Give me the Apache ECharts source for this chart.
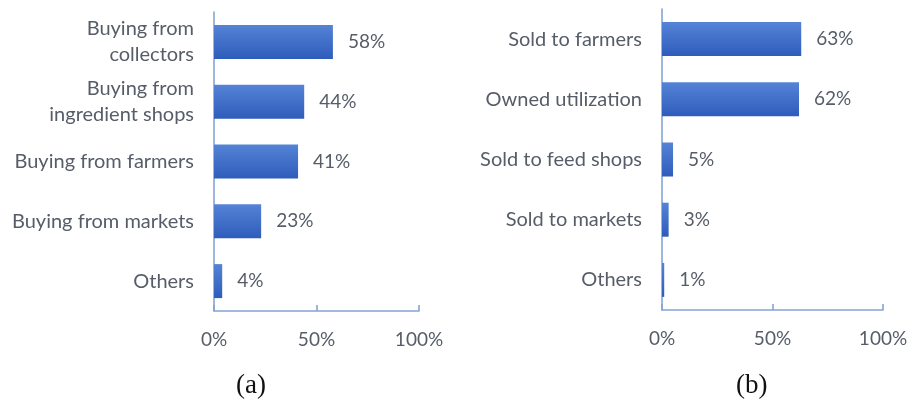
<!DOCTYPE html>
<html>
<head>
<meta charset="utf-8">
<script src="https://cdn.jsdelivr.net/npm/echarts@6/dist/echarts.min.js"></script>
<style>
  html, body { margin: 0; padding: 0; background: #ffffff; }
  #chart { width: 919px; height: 403px; }
</style>
</head>
<body>
<div id="chart"></div>
<script>
// (a) sources of purchase
const sourceCategories = [
  'Buying from\ncollectors',
  'Buying from\ningredient shops',
  'Buying from farmers',
  'Buying from markets',
  'Others'
];
const sourceShares = [58, 44, 41, 23, 4];

// (b) destinations of use
const useCategories = [
  'Sold to farmers',
  'Owned utilization',
  'Sold to feed shops',
  'Sold to markets',
  'Others'
];
const useShares = [63, 62, 5, 3, 1];

// shared percentage scale
const pctMin = 0;
const pctMax = 100;
const pctStep = 50;
const panelLabels = ['(a)', '(b)'];

const textColor = '#565d68';
const axisColor = '#86a3d6';
const labelFont = 'Lato, "Open Sans", sans-serif';

const barFill = new echarts.graphic.LinearGradient(0, 0, 0, 1, [
  { offset: 0, color: '#5583d6' },
  { offset: 1, color: '#2e5cbb' }
]);

function valueAxis(gridIndex) {
  return {
    type: 'value',
    gridIndex: gridIndex,
    min: pctMin,
    max: pctMax,
    interval: pctStep,
    axisLine: { show: true, lineStyle: { color: axisColor, width: 1.6 } },
    axisTick: { show: true, inside: true, length: 6, lineStyle: { color: axisColor, width: 1.6 } },
    splitLine: { show: false },
    axisLabel: {
      formatter: '{value}%',
      color: textColor,
      fontFamily: labelFont,
      fontSize: 19,
      margin: 19
    }
  };
}

function categoryAxis(gridIndex, cats) {
  return {
    type: 'category',
    gridIndex: gridIndex,
    data: cats,
    inverse: true,
    axisLine: { show: true, lineStyle: { color: axisColor, width: 1.6 } },
    axisTick: { show: false },
    axisLabel: {
      color: textColor,
      fontFamily: labelFont,
      fontSize: 20,
      lineHeight: 26,
      margin: 20,
      align: 'right'
    }
  };
}

function barSeries(idx, values) {
  return {
    type: 'bar',
    xAxisIndex: idx,
    yAxisIndex: idx,
    data: values,
    barWidth: 34,
    itemStyle: { color: barFill },
    label: {
      show: true,
      position: 'right',
      distance: 15,
      formatter: '{c}%',
      color: textColor,
      fontFamily: labelFont,
      fontSize: 19
    },
    silent: true
  };
}

const chart = echarts.init(document.getElementById('chart'), null, { renderer: 'canvas' });

chart.setOption({
  animation: false,
  backgroundColor: '#ffffff',
  grid: [
    { left: 214, top: 12, width: 205, height: 299, containLabel: false },
    { left: 662, top: 9, width: 221, height: 301, containLabel: false }
  ],
  xAxis: [valueAxis(0), valueAxis(1)],
  yAxis: [categoryAxis(0, sourceCategories), categoryAxis(1, useCategories)],
  series: [barSeries(0, sourceShares), barSeries(1, useShares)],
  graphic: [
    {
      type: 'text', left: 236, top: 372,
      style: { text: panelLabels[0], fill: '#111111', font: '27px "Liberation Serif", "Times New Roman", serif' }
    },
    {
      type: 'text', left: 736, top: 372,
      style: { text: panelLabels[1], fill: '#111111', font: '27px "Liberation Serif", "Times New Roman", serif' }
    }
  ]
});
</script>
</body>
</html>
